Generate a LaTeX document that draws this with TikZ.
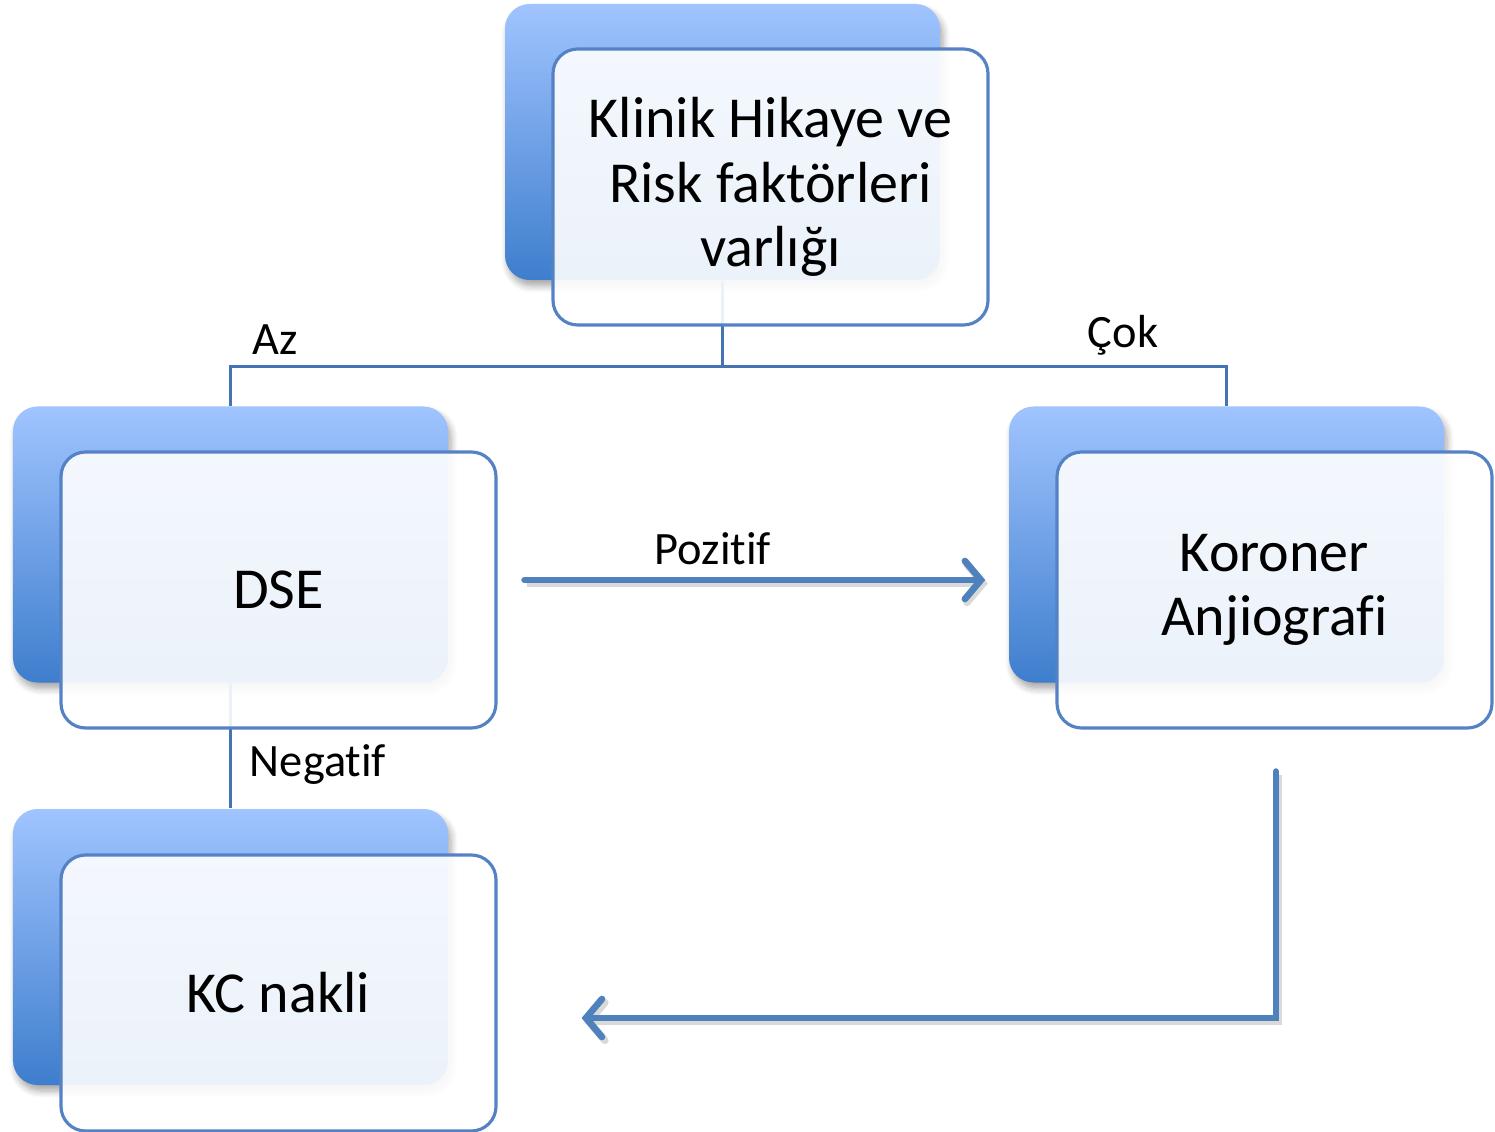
\documentclass[tikz,border=0pt]{standalone}
\usepackage{fontspec}
\setmainfont{Carlito}[Ligatures={NoCommon,NoRequired,NoContextual}]
\usepackage{tikz}
\usetikzlibrary{arrows.meta,shadows.blur}
\definecolor{FlowBlueTop}{RGB}{160,196,255}
\definecolor{FlowBlueMid}{RGB}{128,170,238}
\definecolor{FlowBlueBot}{RGB}{62,126,205}
\definecolor{FlowEdge}{RGB}{84,130,196}
\definecolor{FlowLine}{RGB}{70,115,180}
\definecolor{FlowArrow}{RGB}{79,129,189}

\begin{document}
\begin{tikzpicture}[
backbox/.style={
rounded corners=7pt,
minimum width=4.35cm,
minimum height=2.76cm,
inner sep=0pt,
top color=FlowBlueTop,
middle color=FlowBlueMid,
bottom color=FlowBlueBot,
blur shadow={shadow xshift=0.03cm,shadow yshift=-0.06cm,shadow blur steps=6,shadow opacity=35}
},
frontbox/.style={
rounded corners=7pt,
minimum width=4.35cm,
minimum height=2.76cm,
inner sep=0pt,
draw=FlowEdge,
line width=0.9pt,
fill=white,
fill opacity=0.9,
text opacity=1,
align=center,
font=\fontsize{16.5}{18.4}\selectfont
},
treeline/.style={
draw=FlowLine,
line width=0.8pt
},
thickarrow/.style={
draw=FlowArrow,
line width=1.9pt,
line cap=round,
-{Straight Barb[length=1.6mm,width=3.8mm,line cap=round]},
preaction={draw=black,opacity=0.15,line width=2.1pt,
transform canvas={shift={(0.025,-0.035)}}}
},
lbl/.style={
font=\fontsize{13.2}{15.8}\selectfont
}
]
\useasboundingbox (0,0) rectangle (14.95,-11.32);

% back boxes
\node[backbox] (topB) at (7.225,-1.42) {};
\node[backbox] (dseB) at (2.305,-5.445) {};
\node[backbox] (korB) at (12.265,-5.445) {};
\node[backbox] (kcB) at (2.305,-9.47) {};

% tree lines
\draw[treeline] (topB.south) -- ++(0,-0.86) -| (dseB.north);
\draw[treeline] (topB.south) -- ++(0,-0.86) -| (korB.north);
\draw[treeline] (dseB.south) -- (kcB.north);

% front boxes
\node[frontbox] (topF) at (7.705,-1.87) {Klinik Hikaye ve\\Risk faktörleri\\varlığı};
\node[frontbox] (dseF) at (2.785,-5.9) {DSE};
\node[frontbox] (korF) at (12.745,-5.9) {Koroner\\Anjiografi};
\node[frontbox] (kcF) at (2.785,-9.93) {KC nakli};

% labels
\node[lbl] (az) at (2.75,-3.40) {Az};
\node[lbl] (cok) at (11.23,-3.35) {Çok};
\node[lbl] (neg) at (3.18,-7.65) {Negatif};
\node[lbl] (poz) at (7.13,-5.49) {Pozitif};

% arrows
\draw[thickarrow] ([xshift=0.27cm,yshift=0.1cm]dseF.east) -- ([xshift=-0.23cm,yshift=0.1cm]korB.west |- dseF.east);
\draw[thickarrow] ([xshift=0.015cm,yshift=-0.42cm]korF.south) |- ([xshift=0.84cm,yshift=-0.25cm]kcF.east);
\end{tikzpicture}
\end{document}
